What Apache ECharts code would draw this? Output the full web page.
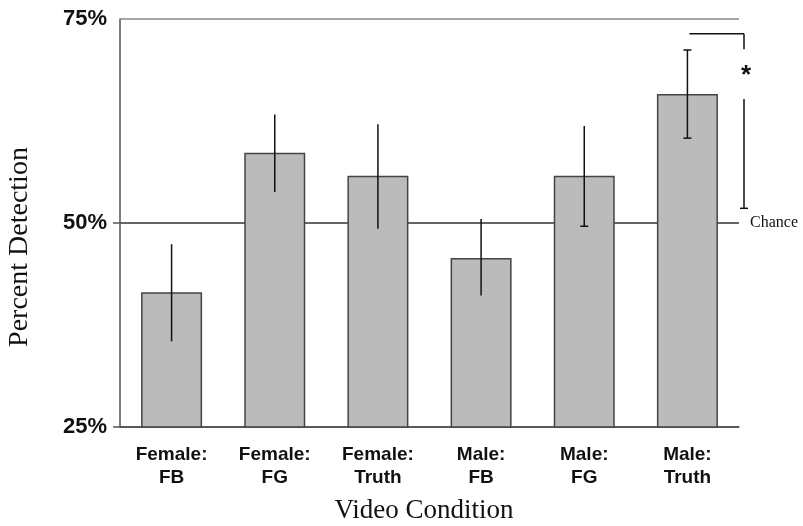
<!DOCTYPE html>
<html>
<head>
<meta charset="utf-8">
<script src="https://cdn.jsdelivr.net/npm/echarts@6/dist/echarts.min.js"></script>
<style>
html,body{margin:0;padding:0;background:#fff;}
#chart{width:803px;height:526px;}
</style>
</head>
<body>
<div id="chart"></div>
<script>
// ---- data ----
const categories = ['Female:\nFB', 'Female:\nFG', 'Female:\nTruth', 'Male:\nFB', 'Male:\nFG', 'Male:\nTruth'];
const detection = [41.5, 58.6, 55.8, 45.7, 55.8, 65.8];
const errLow  = [35.5, 53.8, 49.3, 41.1, 49.6, 60.4];
const errHigh = [47.4, 63.3, 62.1, 50.5, 61.9, 71.2];
const capTop    = [false, false, false, false, false, true];
const capBottom = [false, false, false, false, true, true];
const yMin = 25, yMax = 75, yStep = 25;
const yTickMarks = [25, 50];
const chanceLevel = 50;
const chanceLabel = 'Chance';
const sigIndex = 5;
const sigBracketTop = 73.2, sigGapTop = 71.3, sigStar = 68.6, sigGapBottom = 65.2, sigBracketBottom = 51.8;
const yTitle = 'Percent Detection';
const xTitle = 'Video Condition';

const chart = echarts.init(document.getElementById('chart'), null, {renderer: 'canvas'});

const option = {
  animation: false,
  backgroundColor: '#fff',
  grid: {left: 120, right: 64, top: 19, bottom: 99, containLabel: false},
  xAxis: {
    type: 'category',
    data: categories,
    axisLine: {show: true, lineStyle: {color: '#555', width: 1.5}},
    axisTick: {show: false},
    axisLabel: {
      fontFamily: 'Liberation Sans', fontWeight: 'bold', fontSize: 19,
      color: '#111', lineHeight: 23, margin: 16, interval: 0
    },
    splitLine: {show: false}
  },
  yAxis: {
    type: 'value',
    min: yMin, max: yMax, interval: yStep,
    axisLine: {show: true, lineStyle: {color: '#555', width: 1.5}},
    axisTick: {show: true, length: 7, customValues: yTickMarks, lineStyle: {color: '#555', width: 1.5}},
    axisLabel: {
      formatter: '{value}%', fontFamily: 'Liberation Sans', fontWeight: 'bold',
      fontSize: 22, color: '#111', margin: 13
    },
    splitLine: {show: true, lineStyle: {color: '#333', width: 1.5}}
  },
  graphic: [
    {type: 'text', x: 20, y: 247, rotation: Math.PI / 2,
     style: {text: yTitle, font: '28px "Liberation Serif"', fill: '#111', align: 'center', verticalAlign: 'middle'}},
    {type: 'text', x: 424, y: 511,
     style: {text: xTitle, font: '27px "Liberation Serif"', fill: '#111', align: 'center', verticalAlign: 'middle'}}
  ],
  series: [
    {
      type: 'bar',
      data: detection,
      barWidth: 61,
      itemStyle: {color: '#bbbbbb', borderColor: '#444', borderWidth: 1.5},
      z: 2,
      markLine: {
        silent: true, symbol: 'none', label: {show: false},
        lineStyle: {color: '#888', width: 1.5, type: 'solid'},
        data: [{yAxis: yMax}]
      }
    },
    {
      type: 'custom',
      z: 5,
      data: categories.map((c, i) => [i, errLow[i], errHigh[i]]),
      renderItem: function (params, api) {
        const i = api.value(0);
        const lo = api.coord([i, api.value(1)]);
        const hi = api.coord([i, api.value(2)]);
        const st = {stroke: '#111', lineWidth: 1.5};
        const ch = [{type: 'line', shape: {x1: hi[0], y1: hi[1], x2: lo[0], y2: lo[1]}, style: st}];
        if (capTop[i]) ch.push({type: 'line', shape: {x1: hi[0] - 4, y1: hi[1], x2: hi[0] + 4, y2: hi[1]}, style: st});
        if (capBottom[i]) ch.push({type: 'line', shape: {x1: lo[0] - 4, y1: lo[1], x2: lo[0] + 4, y2: lo[1]}, style: st});
        return {type: 'group', children: ch};
      }
    },
    {
      type: 'custom',
      z: 5,
      data: [[sigIndex, chanceLevel]],
      renderItem: function (params, api) {
        const cs = params.coordSys;
        const xr = cs.x + cs.width + 5;
        const xc = api.coord([sigIndex, sigBracketTop])[0] + 2;
        const y = v => api.coord([sigIndex, v])[1];
        const st = {stroke: '#111', lineWidth: 1.5};
        return {type: 'group', children: [
          {type: 'line', shape: {x1: xc, y1: y(sigBracketTop), x2: xr, y2: y(sigBracketTop)}, style: st},
          {type: 'line', shape: {x1: xr, y1: y(sigBracketTop), x2: xr, y2: y(sigGapTop)}, style: st},
          {type: 'line', shape: {x1: xr, y1: y(sigGapBottom), x2: xr, y2: y(sigBracketBottom)}, style: st},
          {type: 'line', shape: {x1: xr - 4, y1: y(sigBracketBottom), x2: xr + 4, y2: y(sigBracketBottom)}, style: st},
          {type: 'text', x: xr + 2, y: y(sigStar) + 5,
           style: {text: '*', font: 'bold 26px "Liberation Sans"', fill: '#111', align: 'center', verticalAlign: 'middle'}},
          {type: 'text', x: cs.x + cs.width + 11, y: y(chanceLevel),
           style: {text: chanceLabel, font: '16px "Liberation Serif"', fill: '#111', align: 'left', verticalAlign: 'middle'}}
        ]};
      }
    }
  ]
};
chart.setOption(option);
</script>
</body>
</html>
